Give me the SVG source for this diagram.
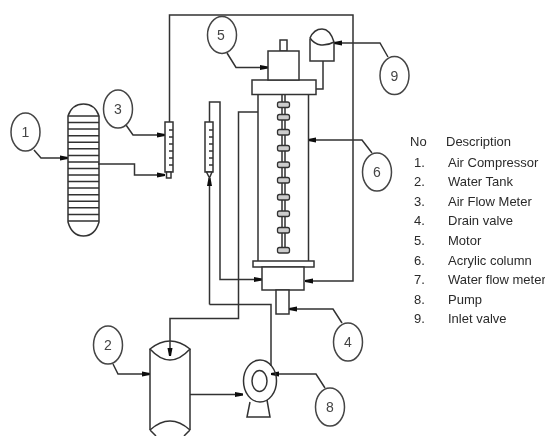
<svg xmlns="http://www.w3.org/2000/svg" width="545" height="436" viewBox="0 0 545 436">
<style>
.s{fill:none;stroke:#333;stroke-width:1.5}
.w{fill:#fff;stroke:#333;stroke-width:1.5}
.c{fill:#fff;stroke:#444;stroke-width:1.5}
.n{font-family:"Liberation Sans",Arial,sans-serif;font-size:14px;fill:#444;text-anchor:middle}
.t{font-family:"Liberation Sans",Arial,sans-serif;font-size:13px;fill:#2a2a2a}
.d{fill:#ccc;stroke:#333;stroke-width:1.3}
</style>
<defs>
<marker id="a" markerUnits="userSpaceOnUse" markerWidth="8" markerHeight="6" refX="8" refY="3" orient="auto"><path d="M0 .5L8 2L8 4L0 5.500Z" fill="#111"/></marker>
<filter id="b" filterUnits="userSpaceOnUse" x="0" y="0" width="545" height="436"><feGaussianBlur stdDeviation="0.5"/></filter>
</defs>
<rect width="545" height="436" fill="#fff"/>
<g filter="url(#b)">
<g id="connectors" class="s">
<path class="s" d="M169.500 122V15H353V281H305" marker-end="url(#a)"/>
<path class="s" d="M98 164H134.500V175H165" marker-end="url(#a)"/>
<path class="s" d="M209.500 304.500V178" marker-end="url(#a)"/>
<path class="s" d="M209.500 304.500H271V366"/>
<path class="s" d="M209.500 122V102H220V279.500H262" marker-end="url(#a)"/>
<path class="s" d="M258 112H238.500V318.500H170V356" marker-end="url(#a)"/>
<path class="s" d="M190 394.500H243" marker-end="url(#a)"/>
<path class="s" d="M323 61V89H316"/>
<path class="s" d="M34 150L41 158H68" marker-end="url(#a)"/>
<path class="s" d="M126 125L133 135H165" marker-end="url(#a)"/>
<path class="s" d="M113 364L118 374H150" marker-end="url(#a)"/>
<path class="s" d="M342 323L333 309H289" marker-end="url(#a)"/>
<path class="s" d="M227 53L236 67.500H268" marker-end="url(#a)"/>
<path class="s" d="M372 153L362 140H308" marker-end="url(#a)"/>
<path class="s" d="M325 388L316 374H271" marker-end="url(#a)"/>
<path class="s" d="M388 57L380 43H334" marker-end="url(#a)"/>
</g>
<g id="air-compressor">
<path class="s" d="M68 116Q72 104 83.500 104Q95 104 99 116V222Q95 236 83.500 236Q72 236 68 222Z"/>
<path class="s" d="M68 116H99M68 122.600H99M68 129.100H99M68 135.700H99M68 142.200H99M68 148.800H99M68 155.400H99M68 161.900H99M68 168.500H99M68 175H99M68 181.600H99M68 188.100H99M68 194.700H99M68 201.200H99M68 207.800H99M68 214.400H99M68 221H99"/>
</g>
<g id="air-flow-meter">
<rect class="w" x="165" y="122" width="8" height="50"/>
<path class="s" d="M173 130H169M173 137H169M173 144H169M173 151H169M173 158H169M173 165H169"/>
<rect class="w" x="166.500" y="172" width="4.500" height="6"/>
</g>
<g id="water-flow-meter">
<rect class="w" x="205" y="122" width="8" height="50"/>
<path class="s" d="M213 130H209M213 137H209M213 144H209M213 151H209M213 158H209M213 165H209"/>
<path class="w" d="M206.500 172H212L209.500 178Z"/>
</g>
<g id="acrylic-column">
<path class="s" d="M258 94V261M308.500 94V261"/>
<path class="s" d="M282 94V250M285 94V250"/>
<g class="d">
<rect x="277.500" y="102" width="12" height="5.500" rx="2"/>
<rect x="277.500" y="114.500" width="12" height="5.500" rx="2"/>
<rect x="277.500" y="129.500" width="12" height="5.500" rx="2"/>
<rect x="277.500" y="145.500" width="12" height="5.500" rx="2"/>
<rect x="277.500" y="162" width="12" height="5.500" rx="2"/>
<rect x="277.500" y="177.500" width="12" height="5.500" rx="2"/>
<rect x="277.500" y="194.500" width="12" height="5.500" rx="2"/>
<rect x="277.500" y="211" width="12" height="5.500" rx="2"/>
<rect x="277.500" y="227.500" width="12" height="5.500" rx="2"/>
<rect x="277.500" y="247.500" width="12" height="5.500" rx="2"/>
</g>
<rect class="w" x="252" y="80" width="64" height="14.500"/>
<rect class="w" x="253" y="261" width="61" height="6"/>
<rect class="w" x="262" y="267" width="42" height="23"/>
</g>
<g id="motor">
<rect class="w" x="280" y="40" width="7" height="11"/>
<rect class="w" x="268" y="51" width="31" height="29"/>
</g>
<g id="drain-valve">
<rect class="w" x="276" y="290" width="13" height="24"/>
</g>
<g id="inlet-valve">
<path class="w" d="M310 39V61H334V42"/>
<path class="w" d="M310 38Q314 29 322 29Q330 29 334 42Q328 45.500 321 45Q314 44 310 38Z"/>
</g>
<g id="water-tank">
<path class="s" d="M150 349V430M190 349V430"/>
<path class="s" d="M150 349Q160 341 170 341Q180 341 190 349Q180 360 170 360Q160 360 150 349Z"/>
<path class="s" d="M150 430Q160 421 170 421Q180 421 190 430M150 430L156 436M190 430L184 436"/>
</g>
<g id="pump">
<path class="s" d="M250 402L247 417H270L267 400"/>
<ellipse class="s" cx="260" cy="381" rx="16.500" ry="21"/>
<ellipse class="s" cx="259.500" cy="381" rx="7.500" ry="10.500"/>
</g>
<g id="label-1"><ellipse class="c" cx="25.500" cy="132" rx="14.500" ry="19"/><text class="n" x="25.500" y="137">1</text></g>
<g id="label-2"><ellipse class="c" cx="108" cy="345" rx="14.500" ry="19"/><text class="n" x="108" y="350">2</text></g>
<g id="label-3"><ellipse class="c" cx="118" cy="109" rx="14.500" ry="19"/><text class="n" x="118" y="114">3</text></g>
<g id="label-4"><ellipse class="c" cx="348" cy="342" rx="14.500" ry="19"/><text class="n" x="348" y="347">4</text></g>
<g id="label-5"><ellipse class="c" cx="222" cy="35" rx="14.500" ry="18.500"/><text class="n" x="221" y="40">5</text></g>
<g id="label-6"><ellipse class="c" cx="377" cy="172" rx="14.500" ry="19"/><text class="n" x="377" y="177">6</text></g>
<g id="label-8"><ellipse class="c" cx="330" cy="407" rx="14.500" ry="19"/><text class="n" x="330" y="412">8</text></g>
<g id="label-9"><ellipse class="c" cx="394.500" cy="75.500" rx="14.500" ry="19"/><text class="n" x="394.500" y="80.500">9</text></g>
<g id="legend" class="t">
<text class="t" x="410" y="146">No</text><text class="t" x="446" y="146">Description</text>
<text class="t" x="414" y="166.500">1.</text><text class="t" x="448" y="166.500">Air Compressor</text>
<text class="t" x="414" y="186">2.</text><text class="t" x="448" y="186">Water Tank</text>
<text class="t" x="414" y="205.500">3.</text><text class="t" x="448" y="205.500">Air Flow Meter</text>
<text class="t" x="414" y="225">4.</text><text class="t" x="448" y="225">Drain valve</text>
<text class="t" x="414" y="245">5.</text><text class="t" x="448" y="245">Motor</text>
<text class="t" x="414" y="264.500">6.</text><text class="t" x="448" y="264.500">Acrylic column</text>
<text class="t" x="414" y="284">7.</text><text class="t" x="448" y="284">Water flow meter</text>
<text class="t" x="414" y="304">8.</text><text class="t" x="448" y="304">Pump</text>
<text class="t" x="414" y="323">9.</text><text class="t" x="448" y="323">Inlet valve</text>
</g>
</g>
</svg>
